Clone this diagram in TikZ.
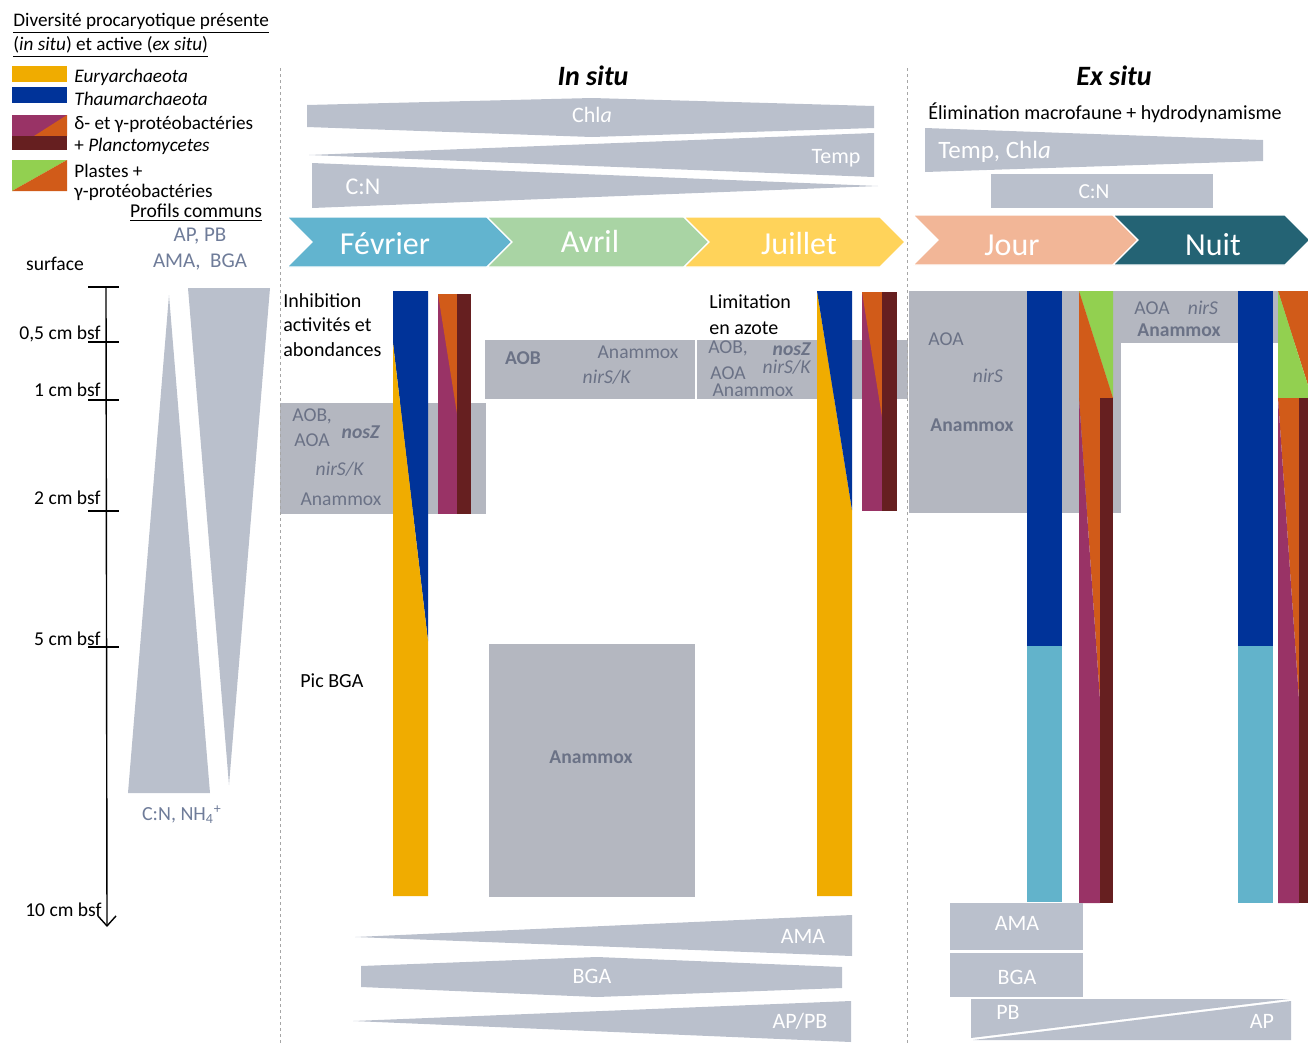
\documentclass[tikz,border=0pt]{standalone}
\usepackage{fontspec}
\setmainfont{Carlito}
\usetikzlibrary{arrows.meta}

\definecolor{eury}{HTML}{F0AC00}
\definecolor{thaum}{HTML}{003399}
\definecolor{deltap}{HTML}{993366}
\definecolor{gammap}{HTML}{D15B19}
\definecolor{planc}{HTML}{661F20}
\definecolor{plast}{HTML}{92D050}
\definecolor{lowarch}{HTML}{62B3CB}
\definecolor{fevcol}{HTML}{62B4CF}
\definecolor{avrcol}{HTML}{A9D4A4}
\definecolor{juicol}{HTML}{FFD35A}
\definecolor{jourcol}{HTML}{F2B697}
\definecolor{nuitcol}{HTML}{246374}
\definecolor{wedgegray}{HTML}{BAC0CC}
\definecolor{boxgray}{HTML}{B4B7C0}
\definecolor{slate}{HTML}{6B7286}
\definecolor{profcol}{HTML}{6F7C99}

\begin{document}
\begin{tikzpicture}[
  x=0.5pt, y=-0.5pt,
  wedge/.style={fill=wedgegray},
  databox/.style={fill=boxgray},
  chevron/.style={draw=white, line width=0.6pt},
  legtxt/.style={anchor=west, inner sep=0pt, font=\fontsize{9.6}{11}\selectfont},
  wtxt/.style={inner sep=0pt, text=white, font=\fontsize{11}{13}\selectfont},
  btxt/.style={inner sep=0pt, text=slate, font=\fontsize{9.8}{12}\selectfont},
  ctxt/.style={inner sep=0pt, text=white, font=\fontsize{16}{19}\selectfont},
  note/.style={inner sep=0pt, anchor=north west, align=left, font=\fontsize{10}{12.2}\selectfont},
  depth/.style={inner sep=0pt, anchor=base east, font=\fontsize{9.8}{11}\selectfont},
  depthtick/.style={line width=0.6pt},
  sepline/.style={gray!70, line width=0.5pt, dash pattern=on 1.5pt off 1.5pt},
]
\useasboundingbox (0,0) rectangle (1308,1045);

%% Legend
\node[legtxt] (title1) at (13,23) {\underline{Diversité procaryotique présente}};
\node[legtxt] (title2) at (13,47) {\underline{(\textit{in situ}) et active (\textit{ex situ})}};
\fill[eury]  (12,66) rectangle (67,82);
\fill[thaum] (12,87) rectangle (67,103);
\fill[deltap] (12,115) rectangle (67,136);
\fill[gammap] (34,136) -- (67,115) -- (67,136) -- cycle;
\fill[planc] (12,136) rectangle (67,150);
\fill[plast] (12,160) -- (67,160) -- (12,191) -- cycle;
\fill[gammap] (67,160) -- (67,191) -- (12,191) -- cycle;
\node[legtxt] (leury)  at (74,77)  {\textit{Euryarchaeota}};
\node[legtxt] (lthaum) at (74,99)  {\textit{Thaumarchaeota}};
\node[legtxt] (lprot)  at (74,124) {δ- et γ-protéobactéries};
\node[legtxt] (lplanc) at (74,146) {+ \textit{Planctomycetes}};
\node[legtxt] (lplast) at (74,171) {Plastes +};
\node[legtxt] (lgamma) at (74,192) {γ-protéobactéries};

%% Depth axis and common profiles
\node[inner sep=0pt, font=\fontsize{9.8}{11}\selectfont] (profils) at (196,213) {\underline{Profils communs}};
\node[inner sep=0pt, text=profcol, font=\fontsize{10.5}{12}\selectfont] (appb) at (200,236) {AP, PB};
\node[inner sep=0pt, text=profcol, font=\fontsize{10.5}{12}\selectfont] (amabga) at (200,262) {AMA,~~BGA};
\node[inner sep=0pt, font=\fontsize{9.8}{11}\selectfont] (surface) at (55,264) {surface};
\fill[wedge] (128,793) -- (210,793) -- (169,295) -- cycle;
\fill[wedge] (188,288) -- (270,288) -- (229,785) -- cycle;
\node[inner sep=0pt, text=profcol, font=\fontsize{10}{12}\selectfont] (cnnh) at (182,815) {C:N, NH\textsubscript{4}\textsuperscript{+}};

\coordinate (axtop) at (106,287);
\coordinate (axend) at (107,927);
\draw[line width=0.7pt, -{Straight Barb[length=5pt,width=9pt]}] (axtop) -- (axend);
\draw[depthtick] (88,287) -- (119,287);
\draw[depthtick] (88,342) -- (119,342);
\draw[depthtick] (88,400) -- (119,400);
\draw[depthtick] (88,511) -- (119,511);
\draw[depthtick] (88,647) -- (119,647);
\node[depth] (d05) at (101,339) {0,5 cm bsf};
\node[depth] (d1)  at (101,396) {1 cm bsf};
\node[depth] (d2)  at (101,504) {2 cm bsf};
\node[depth] (d5)  at (101,645) {5 cm bsf};
\node[depth] (d10) at (102,916) {10 cm bsf};

%% Titles
\node[inner sep=0pt, font=\fontsize{14}{16}\selectfont\bfseries\itshape] (insitu) at (593,76) {In situ};
\node[inner sep=0pt, font=\fontsize{14}{16}\selectfont\bfseries\itshape] (exsitu) at (1114,76) {Ex situ};

%% In situ wedges
\fill[wedge] (307,105) -- (592,98) -- (874,106) -- (874,128) -- (592,137) -- (307,127) -- cycle;
\fill[wedge] (309,155) -- (874,133) -- (874,177) -- cycle;
\fill[wedge] (312,163) -- (878,186) -- (312,208) -- cycle;
\node[wtxt] (chla) at (592,115) {Chl\textit{a}};
\node[wtxt] (temp) at (836,158) {Temp};
\node[wtxt, font=\fontsize{12}{14}\selectfont] (cn) at (363,187) {C:N};

%% Ex situ wedges
\node[inner sep=0pt, anchor=west, font=\fontsize{10}{12}\selectfont] (elim) at (928,113) {Élimination macrofaune + hydrodynamisme};
\fill[wedge] (925,128) -- (1263,140) -- (1263,161) -- (925,172) -- cycle;
\fill[wedge] (991,174) rectangle (1213,208);
\node[wtxt, anchor=west, font=\fontsize{12.5}{14}\selectfont] (tempchla) at (938,152) {Temp, Chl\textit{a}};
\node[wtxt, font=\fontsize{10.7}{13}\selectfont] (cnex) at (1094,192) {C:N};

%% Chevrons
\fill[fevcol, chevron] (287,217) -- (487,217) -- (512,242) -- (487,267) -- (287,267) -- (312,242) -- cycle;
\fill[avrcol, chevron] (487,217) -- (684,217) -- (709,242) -- (684,267) -- (487,267) -- (512,242) -- cycle;
\fill[juicol, chevron] (684,217) -- (880,217) -- (905,242) -- (880,267) -- (684,267) -- (709,242) -- cycle;
\fill[jourcol, chevron] (913,215) -- (1113,215) -- (1138,240) -- (1113,265) -- (913,265) -- (938,240) -- cycle;
\fill[nuitcol, chevron] (1113,215) -- (1285,215) -- (1310,240) -- (1285,265) -- (1113,265) -- (1138,240) -- cycle;
\node[ctxt] (fev) at (385,244) {Février};
\node[ctxt] (avr) at (590,241) {Avril};
\node[ctxt] (jui) at (799,244) {Juillet};
\node[ctxt] (jour) at (1012,245) {Jour};
\node[ctxt] (nuit) at (1213,245) {Nuit};

%% Grey activity boxes
\fill[databox] (280,403) rectangle (486,514);
\fill[databox] (485,340) rectangle (695,399);
\fill[databox] (697,340) rectangle (908,399);
\fill[databox] (489,644) rectangle (695,897);
\fill[databox] (909,291) rectangle (1121,513);
\fill[databox] (1121,291) rectangle (1308,343);

%% Fevrier bars
\fill[thaum] (393,291) -- (428,291) -- (428,641) -- (393,343) -- cycle;
\fill[eury] (393,343) -- (428,641) -- (428,896) -- (393,896) -- cycle;
\fill[deltap] (438,294) rectangle (458,514);
\fill[gammap] (438,294) -- (458,294) -- (458,420) -- cycle;
\fill[planc] (457,294) rectangle (471,514);

%% Juillet bars
\fill[eury] (817,291) -- (852,510) -- (852,896) -- (817,896) -- cycle;
\fill[thaum] (817,291) -- (852,291) -- (852,510) -- cycle;
\fill[deltap] (862,292) rectangle (882,511);
\fill[gammap] (862,292) -- (882,292) -- (882,417) -- cycle;
\fill[planc] (882,292) rectangle (897,511);

%% Jour bars
\fill[thaum] (1027,291) rectangle (1062,646);
\fill[lowarch] (1027,646) rectangle (1062,902);
\fill[plast] (1079,291) -- (1113,291) -- (1113,398) -- cycle;
\fill[gammap] (1079,291) -- (1113,398) -- (1100,398) -- (1100,700) -- (1079,398) -- cycle;
\fill[deltap] (1079,398) -- (1100,700) -- (1100,903) -- (1079,903) -- cycle;
\fill[planc] (1100,398) rectangle (1113,903);

%% Nuit bars
\fill[thaum] (1238,291) rectangle (1273,646);
\fill[lowarch] (1238,646) rectangle (1273,903);
\fill[gammap] (1278,291) -- (1312,291) -- (1312,398) -- cycle;
\fill[plast] (1278,291) -- (1312,398) -- (1278,398) -- cycle;
\fill[gammap] (1278,398) -- (1299,398) -- (1299,700) -- cycle;
\fill[deltap] (1278,398) -- (1299,700) -- (1299,903) -- (1278,903) -- cycle;
\fill[planc] (1299,398) rectangle (1312,903);

%% Box labels
\node[btxt, anchor=west] (fevaob) at (292,416) {AOB,};
\node[btxt, anchor=west] (fevaoa) at (294,440) {AOA};
\node[btxt] (fevnos) at (361,432) {\textbf{\textit{nosZ}}};
\node[btxt] (fevnir) at (340,469) {\textit{nirS/K}};
\node[btxt] (fevana) at (341,499) {Anammox};
\node[btxt] (avraob) at (523,358) {\textbf{AOB}};
\node[btxt] (avrana) at (638,352) {Anammox};
\node[btxt] (avrnir) at (607,377) {\textit{nirS/K}};
\node[btxt] (juiaob) at (728,348) {AOB,};
\node[btxt] (juinos) at (792,349) {\textbf{\textit{nosZ}}};
\node[btxt] (juiaoa) at (728,373) {AOA};
\node[btxt] (juinir) at (787,367) {\textit{nirS/K}};
\node[btxt] (juiana) at (753,390) {Anammox};
\node[btxt] (bigana) at (591,757) {\textbf{Anammox}};
\node[btxt] (jouraoa) at (946,339) {AOA};
\node[btxt] (journir) at (988,376) {\textit{nirS}};
\node[btxt] (jourana) at (972,425) {\textbf{Anammox}};
\node[btxt] (nuitaoa) at (1152,308) {AOA};
\node[btxt] (nuitnir) at (1203,308) {\textit{nirS}};
\node[btxt] (nuitana) at (1179,330) {\textbf{Anammox}};

%% Notes
\node[note] (inhib) at (283,293) {Inhibition\\activités et\\abondances};
\node[note, anchor=west] (picbga) at (300,681) {Pic BGA};
\node[note, font=\fontsize{10}{13}\selectfont] (limit) at (709,294) {Limitation\\en azote};

%% Bottom wedges
\fill[wedge] (355,937) -- (852,915) -- (852,956) -- cycle;
\fill[wedge] (361,966) -- (597,957) -- (842,967) -- (842,988) -- (597,997) -- (361,987) -- cycle;
\fill[wedge] (353,1021) -- (851,1001) -- (851,1042) -- cycle;
\node[wtxt] (amain) at (803,936) {AMA};
\node[wtxt] (bgain) at (592,976) {BGA};
\node[wtxt] (appbin) at (800,1021) {AP/PB};
\fill[wedge] (950,903) rectangle (1083,950);
\fill[wedge] (950,953) rectangle (1083,997);
\fill[wedge] (971,999) -- (1289,999) -- (971,1038) -- cycle;
\fill[wedge] (973,1040) -- (1291,1001) -- (1291,1040) -- cycle;
\node[wtxt] (amaex) at (1017,923) {AMA};
\node[wtxt] (bgaex) at (1017,977) {BGA};
\node[wtxt] (pbex) at (1008,1012) {PB};
\node[wtxt] (apex) at (1262,1021) {AP};

%% Separators
\draw[sepline] (280,68) -- (280,1045);
\draw[sepline] (907,68) -- (907,1045);

\end{tikzpicture}
\end{document}
